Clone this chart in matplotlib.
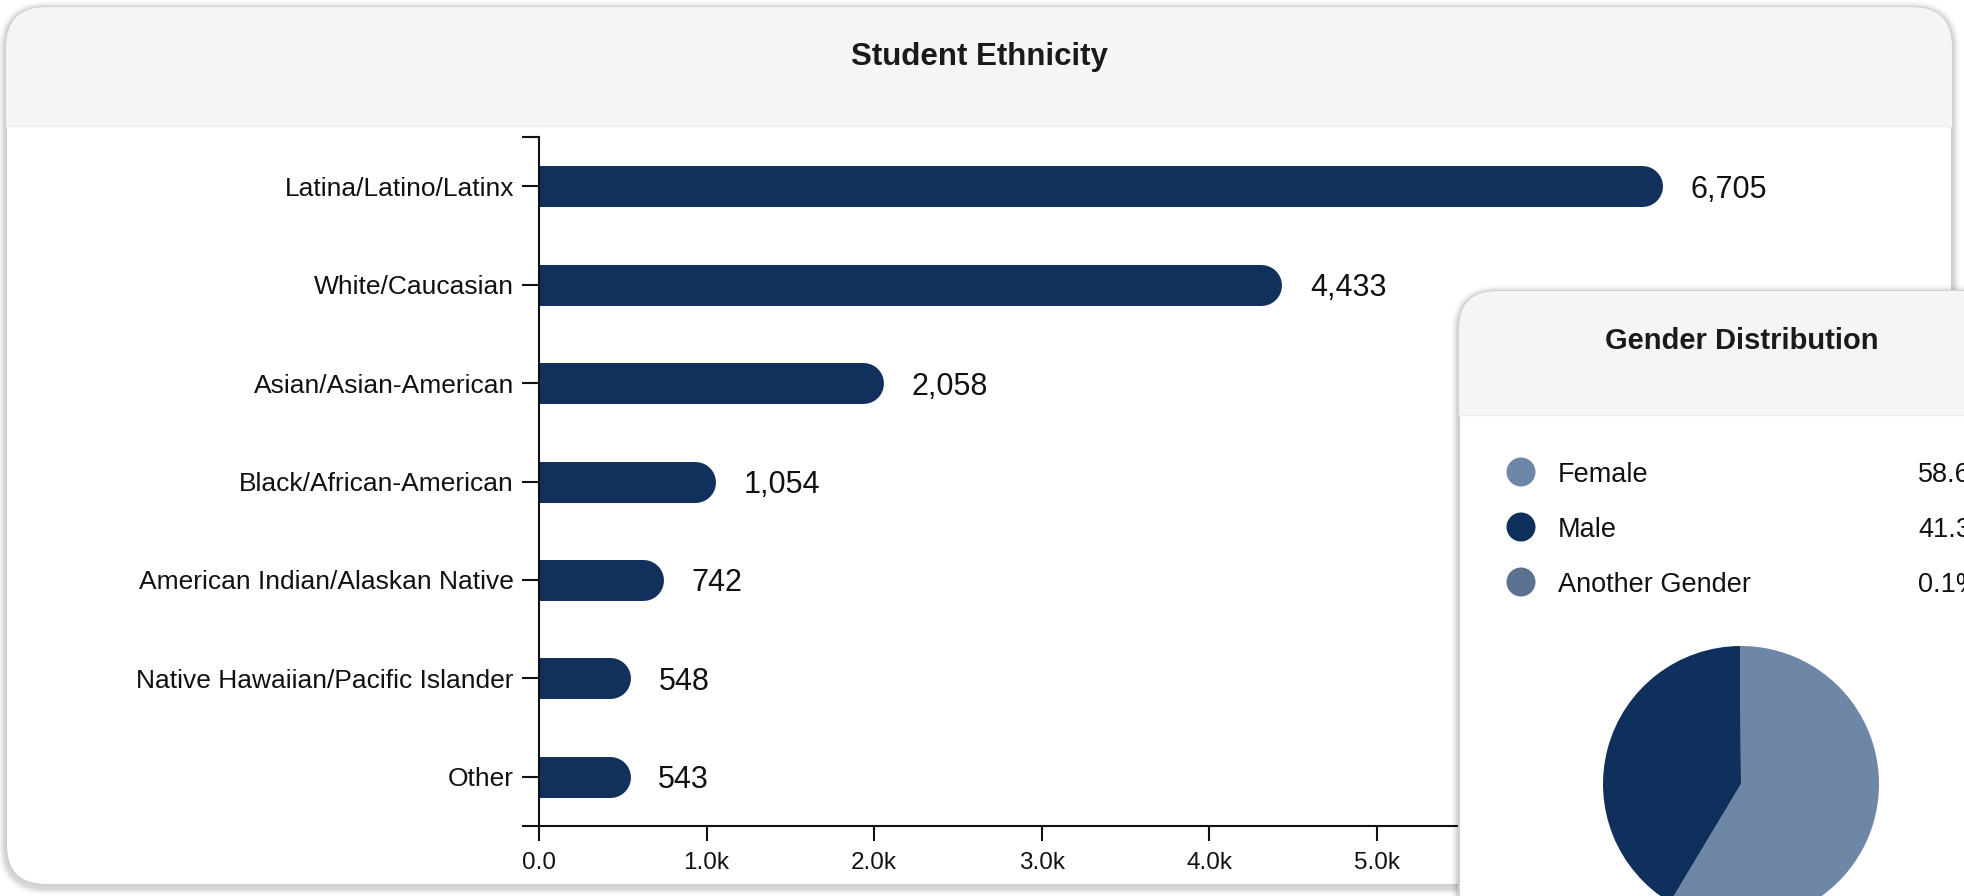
import matplotlib
matplotlib.use("Agg")
import matplotlib.pyplot as plt
from matplotlib.patches import FancyBboxPatch, Rectangle, Circle

# ---------------- data ----------------
categories = ["Latina/Latino/Latinx", "White/Caucasian", "Asian/Asian-American",
              "Black/African-American", "American Indian/Alaskan Native",
              "Native Hawaiian/Pacific Islander", "Other"]
counts = [6705, 4433, 2058, 1054, 742, 548, 543]
x_ticks = [0, 1000, 2000, 3000, 4000, 5000, 6000, 7000]
x_ticklabels = ["0.0", "1.0k", "2.0k", "3.0k", "4.0k", "5.0k", "6.0k", "7.0k"]
gender_labels = ["Female", "Male", "Another Gender"]
gender_pct = [58.6, 41.3, 0.1]

# ---------------- style ----------------
W, H, DPI = 1964, 896, 100
BAR = "#11305c"
G_COLORS = ["#6f87a6", "#0f2f5c", "#5b7291"]
TXT = "#111111"
HEAD = "#f5f5f5"
EDGE = "#cfcfcf"

plt.rcParams['font.family'] = ['Liberation Sans', 'DejaVu Sans']

fig = plt.figure(figsize=(W / DPI, H / DPI), dpi=DPI)
fig.patch.set_facecolor("white")


def fig_rect(left, top, width, height):
    return [left / W, 1 - (top + height) / H, width / W, height / H]


def px_axes(z):
    a = fig.add_axes([0, 0, 1, 1], zorder=z)
    a.set_xlim(0, W)
    a.set_ylim(H, 0)
    a.axis('off')
    a.patch.set_alpha(0)
    return a


def panel(a, x, y, w, h, r, head_h):
    for k, al in [(7, 0.04), (5, 0.05), (3, 0.07)]:
        a.add_patch(FancyBboxPatch((x - k, y - k + 2), w + 2 * k, h + 2 * k,
                                   boxstyle=f"round,pad=0,rounding_size={r + k}",
                                   fc="#000000", ec="none", alpha=al))
    box = FancyBboxPatch((x, y), w, h, boxstyle=f"round,pad=0,rounding_size={r}",
                         fc="white", ec=EDGE, lw=1.5)
    a.add_patch(box)
    band = Rectangle((x, y), w, head_h, fc=HEAD, ec="none")
    a.add_patch(band)
    band.set_clip_path(box)
    a.plot([x, x + w], [y + head_h, y + head_h], color="#ededed", lw=1)
    return box


# ---------------- main panel ----------------
bg = px_axes(-2)
panel(bg, 6, 7, 1946, 878, 40, 119)
bg.text(979, 57, "Student Ethnicity", ha="center", va="center",
        fontsize=22.5, fontweight="bold", color="#1a1a1a")

ax_left, ax_top, ax_w, ax_h = 539, 137, 1257, 689
ax = fig.add_axes(fig_rect(ax_left, ax_top, ax_w, ax_h), zorder=1)
ax.patch.set_alpha(0)
ax.set_xlim(0, 7500)
ax.set_ylim(len(categories) - 0.5, -0.5)

bar_px = 41
lw_pt = bar_px * 72 / DPI
px_per_unit = ax_w / 7500
r_data = (bar_px / 2) / px_per_unit
for i, v in enumerate(counts):
    ax.plot([0, v - r_data], [i, i], color=BAR, lw=lw_pt,
            solid_capstyle="round", clip_on=True)
    ax.annotate(f"{v:,}", (v, i), xytext=(28 * 72 / DPI, 0),
                textcoords="offset points", ha="left", va="center_baseline",
                fontsize=22, color=TXT)

for s in ["top", "right"]:
    ax.spines[s].set_visible(False)
for s in ["left", "bottom"]:
    ax.spines[s].set_linewidth(1.5)
    ax.spines[s].set_color(TXT)

ax.set_yticks(range(len(categories)))
ax.set_yticklabels(categories, fontsize=19, color=TXT)
ax.set_yticks([-0.5, len(categories) - 0.5], minor=True)
ax.tick_params(axis="y", which="both", length=12, width=1.5, pad=6, color=TXT)
ax.set_xticks(x_ticks)
ax.set_xticklabels(x_ticklabels, fontsize=17.5, color=TXT)
ax.tick_params(axis="x", length=11, width=1.5, pad=8, color=TXT)

# ---------------- gender panel ----------------
ov = px_axes(3)
panel(ov, 1459, 291, 700, 800, 38, 124)
ov.text(1742, 341, "Gender Distribution", ha="center", va="center",
        fontsize=21, fontweight="bold", color="#1a1a1a")
for j, (lab, pct) in enumerate(zip(gender_labels, gender_pct)):
    yy = 472 + 55 * j
    ov.add_patch(Circle((1521, yy), 14.5, fc=G_COLORS[j], ec="none"))
    ov.text(1558, yy, lab, ha="left", va="center_baseline", fontsize=19.5, color=TXT)
    ov.text(1918, yy, f"{pct:.1f}%", ha="left", va="center_baseline",
            fontsize=19.5, color=TXT)

pa = fig.add_axes(fig_rect(1603, 646, 276, 276), zorder=4)
pa.pie(gender_pct, colors=G_COLORS, startangle=90, counterclock=False,
       radius=1, wedgeprops=dict(linewidth=0))
pa.set_xlim(-1, 1)
pa.set_ylim(-1, 1)
pa.axis("off")

fig.savefig("out.png", dpi=DPI)
